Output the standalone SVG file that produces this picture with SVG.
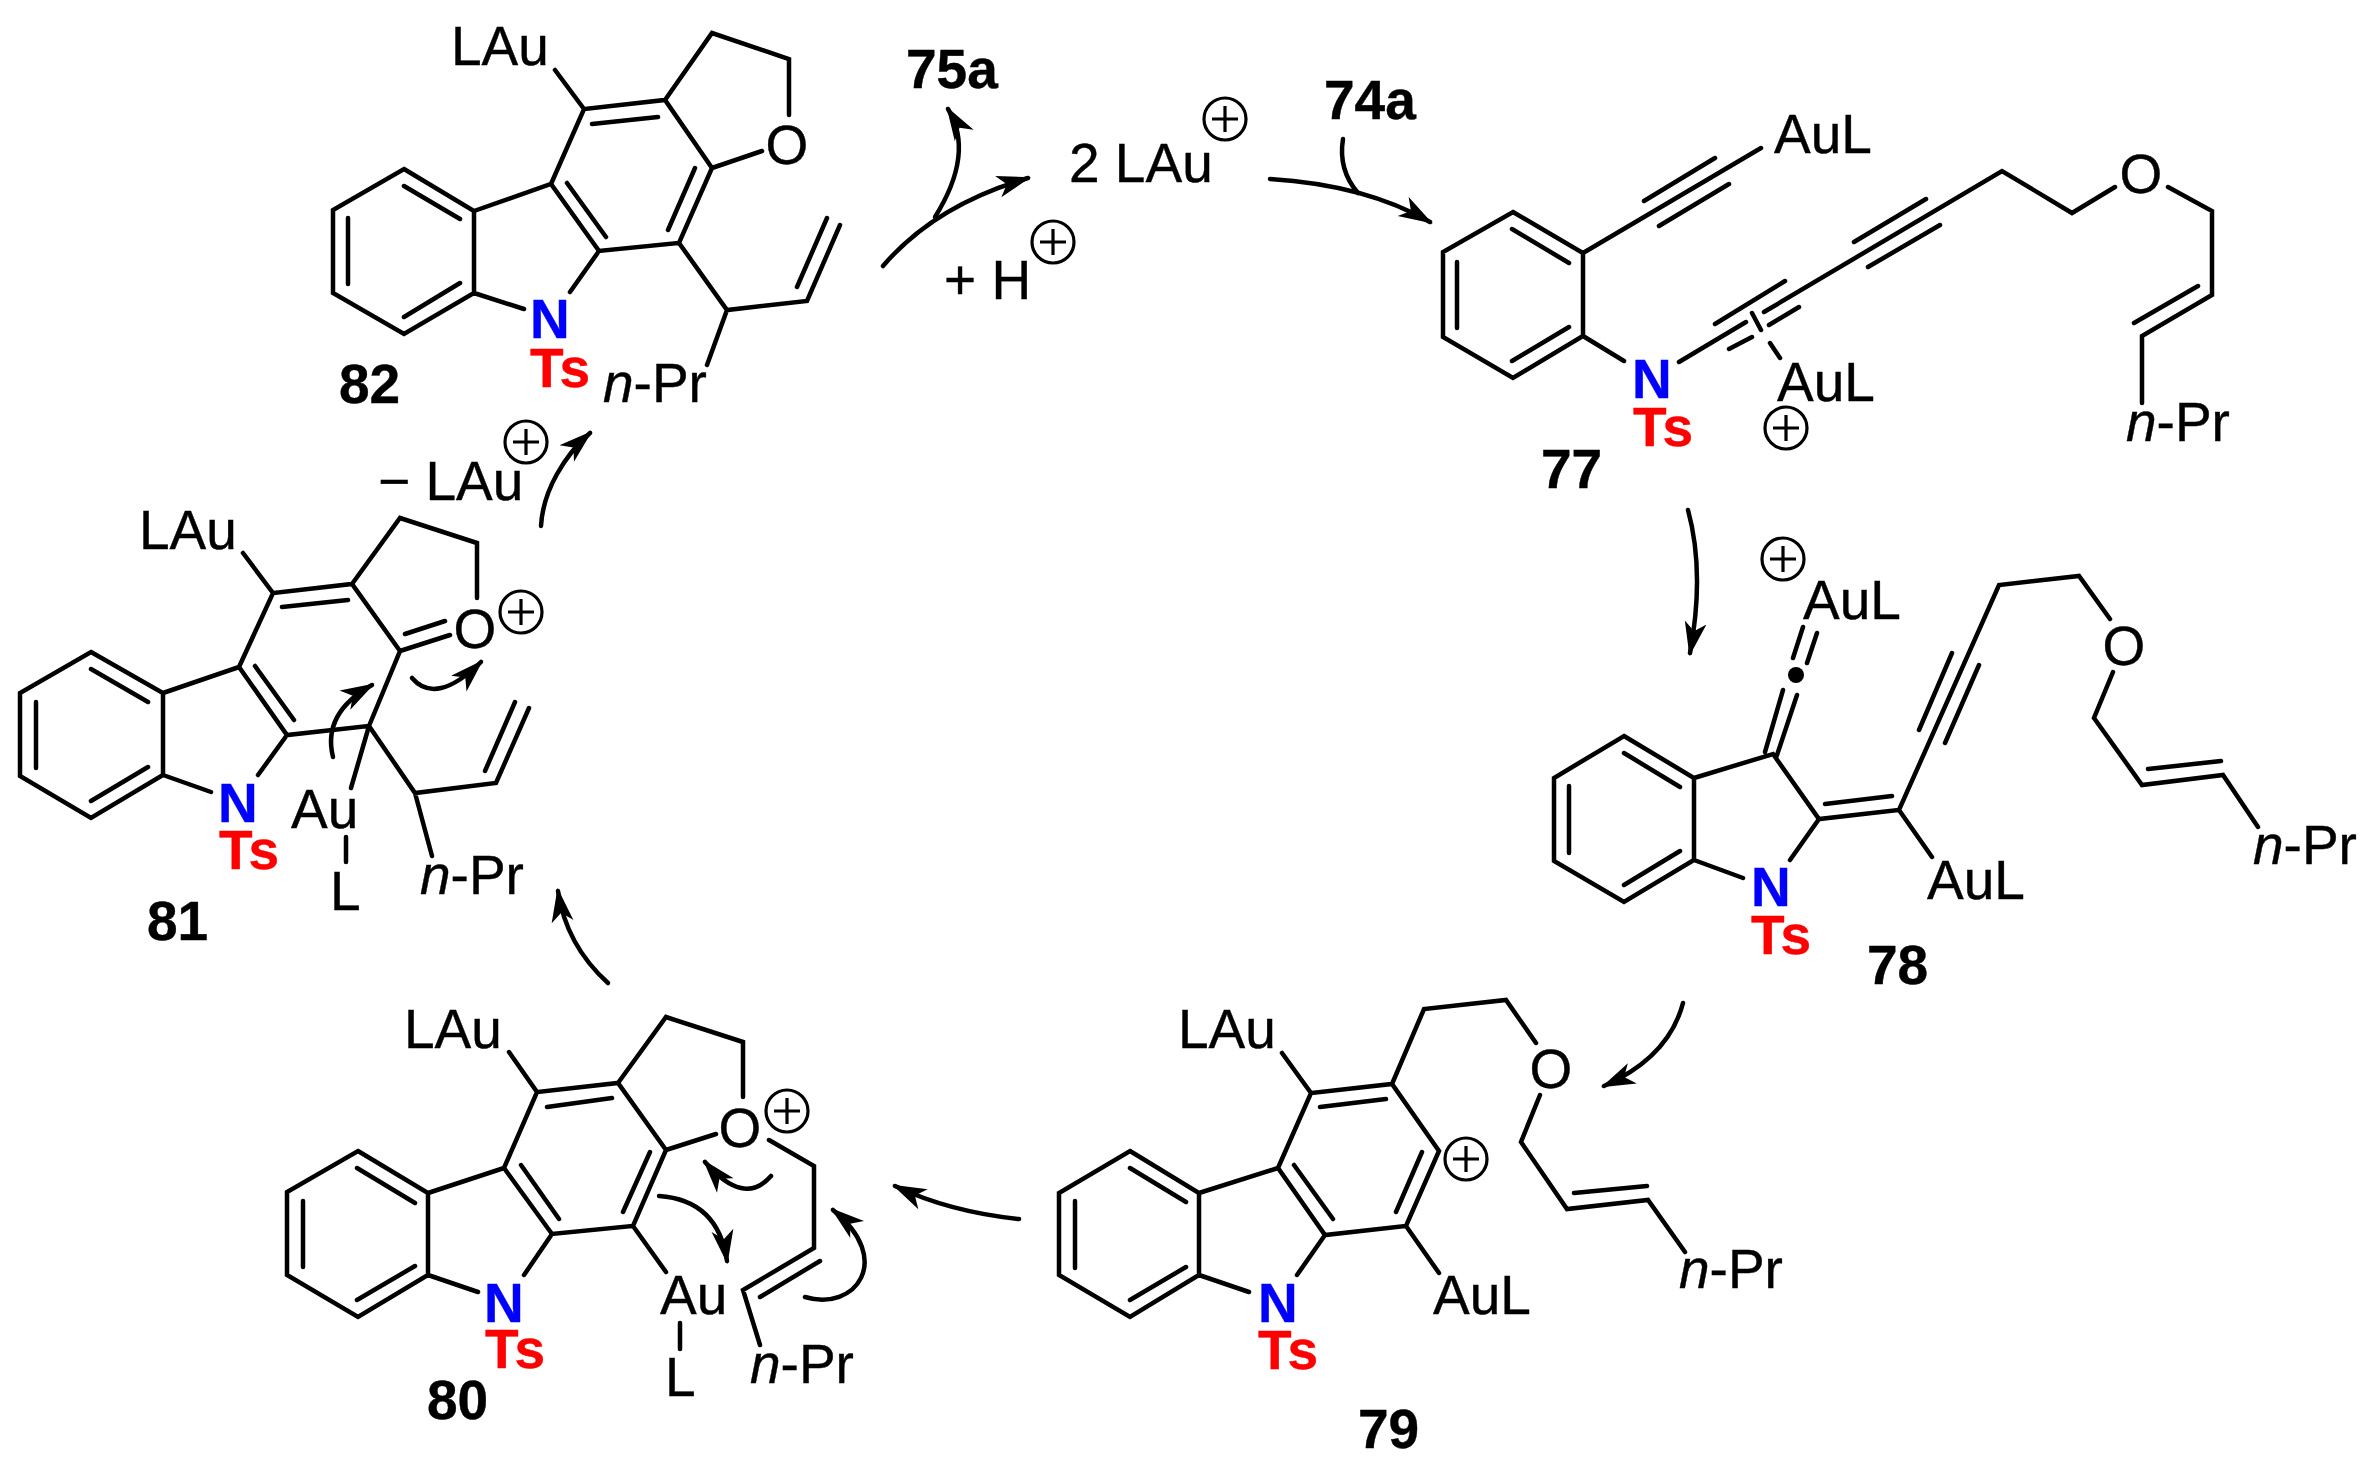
<svg xmlns="http://www.w3.org/2000/svg" xmlns:xlink="http://www.w3.org/1999/xlink" width="2379" height="1476" viewBox="0 0 2379 1476">
<style>
.b{fill:none;stroke:#000;stroke-width:4.5;stroke-linecap:round;stroke-linejoin:miter}
.a{fill:none;stroke:#000;stroke-width:4.5;stroke-linecap:round;marker-end:url(#head)}
text{font-family:"Liberation Sans",Arial,sans-serif;font-size:55px;fill:#000;stroke:#000;stroke-width:.4}
.N{font-weight:bold;fill:#0000ff;stroke:#0000ff}
.T{font-weight:bold;fill:#ff0000;stroke:#ff0000}
.l{font-weight:bold}
.c{text-anchor:middle}
.i{font-style:italic}
</style>
<defs>
<marker id="head" markerUnits="userSpaceOnUse" markerWidth="36" markerHeight="26" viewBox="0 0 36 26" refX="31" refY="13" orient="auto"><path d="M34,13 L0,2 L9,13 L0,24 Z" fill="#000"/></marker>
<g id="plus"><circle r="21" fill="none" stroke="#000" stroke-width="3.2"/><path d="M-13,0H13M0,-13V13" stroke="#000" stroke-width="3.2" fill="none"/></g>
</defs>
<rect width="2379" height="1476" fill="#fff"/>

<g id="compound-82">
<path class="b" d="M404,169L474,211L474,293L404,334L333,293L333,210ZM404,186L460,219M460,283L404,317M348,218L348,284M474,211L551,184L599,251L679,243L712,168L665,100L584,109L551,184M567,183L606,237M668,230L695,168M592,124L658,117M584,109L555,70M665,100L712,33L789,59L789,115M712,168L762,151M474,293L524,309M599,251L570,292M679,243L727,310L807,301L840,225M797,287L827,218M727,310L707,365"/>
<text x="451" y="65">LAu</text>
<text class="c" x="787" y="164">O</text>
<text class="N" x="530" y="338">N</text>
<text class="T" x="530" y="387">Ts</text>
<text x="603" y="402"><tspan class="i">n</tspan>-Pr</text>
<text class="l" x="339" y="403">82</text>
</g>

<g id="reagent-75a"><text class="l" x="906" y="88">75a</text></g>
<g id="reagent-74a"><text class="l" x="1324" y="119">74a</text></g>
<g id="proton"><text x="944" y="299">+ H</text><use xlink:href="#plus" href="#plus" x="1053" y="242"/></g>
<g id="catalyst-in"><text x="1069" y="182">2 LAu</text><use xlink:href="#plus" href="#plus" x="1225" y="119"/></g>
<g id="catalyst-out"><text x="378" y="500">− LAu</text><use xlink:href="#plus" href="#plus" x="526" y="442"/></g>

<g id="compound-77">
<path class="b" d="M1513,212L1583,253L1583,336L1513,378L1443,337L1443,252ZM1512,229L1569,263M1569,327L1512,361M1457,262L1457,328M1583,253L1761,148M1644,201L1715,158M1659,226L1729,184M1583,336L1624,361M1679,362L1746,322M1764,312L2002,171L2072,213L2115,187M2168,187L2212,211L2212,295L2142,336L2142,403M2198,286L2134,323M1926,199L1854,242M1940,225L1868,267M1715,324L1785,281M1729,349L1752,337M1769,325L1799,307M1752,313L1761,330M1770,343L1780,358"/>
<text x="1774" y="153">AuL</text>
<text x="1777" y="401">AuL</text>
<text class="c" x="2141" y="193">O</text>
<text class="N" x="1632" y="398">N</text>
<text class="T" x="1633" y="446">Ts</text>
<text x="2126" y="441"><tspan class="i">n</tspan>-Pr</text>
<text class="l" x="1541" y="488">77</text>
<use xlink:href="#plus" href="#plus" x="1786" y="428"/>
</g>

<g id="compound-78">
<path class="b" d="M1624,736L1694,778L1694,860L1624,902L1554,861L1554,778ZM1624,753L1680,787M1680,851L1624,885M1569,786L1569,853M1694,778L1773,754L1819,819L1899,810L1999,585L2079,576L2110,619M1825,804L1892,796M1919,730L1952,653M1945,743L1979,665M2113,672L2094,718L2142,785L2223,775L2258,827M2148,769L2221,761M1803,627L1793,658M1817,633L1807,663M1783,690L1765,752M1797,695L1776,758M1899,810L1932,857M1694,860L1743,878M1819,819L1790,860"/>
<circle cx="1796" cy="675" r="8" fill="#000"/>
<use xlink:href="#plus" href="#plus" x="1783" y="559"/>
<text x="1803" y="619">AuL</text>
<text x="1927" y="899">AuL</text>
<text class="c" x="2124" y="665">O</text>
<text class="N" x="1751" y="906">N</text>
<text class="T" x="1751" y="954">Ts</text>
<text x="2253" y="864"><tspan class="i">n</tspan>-Pr</text>
<text class="l" x="1867" y="984">78</text>
</g>

<g id="compound-79">
<path class="b" d="M1130,1151L1199,1193L1199,1275L1130,1317L1059,1275L1059,1193ZM1130,1168L1186,1202M1186,1267L1130,1300M1075,1201L1075,1268M1199,1193L1278,1168L1325,1235L1406,1226L1439,1151L1392,1084L1311,1093L1278,1168M1294,1165L1333,1219M1396,1212L1422,1152M1320,1107L1386,1099M1311,1093L1282,1053M1392,1084L1424,1009L1506,1000L1536,1043M1540,1095L1521,1142L1567,1209L1648,1200L1685,1252M1574,1193L1647,1186M1406,1226L1439,1273M1199,1275L1249,1292M1325,1235L1297,1275"/>
<use xlink:href="#plus" href="#plus" x="1466" y="1159"/>
<text x="1178" y="1048">LAu</text>
<text x="1433" y="1314">AuL</text>
<text class="c" x="1551" y="1088">O</text>
<text class="N" x="1258" y="1322">N</text>
<text class="T" x="1258" y="1369">Ts</text>
<text x="1679" y="1288"><tspan class="i">n</tspan>-Pr</text>
<text class="l" x="1358" y="1448">79</text>
</g>

<g id="compound-80">
<path class="b" d="M358,1151L428,1193L428,1275L358,1317L287,1275L287,1192ZM357,1168L415,1203M415,1266L357,1300M303,1201L303,1267M428,1193L504,1168L552,1234L633,1226L666,1150L618,1083L537,1092L504,1168M521,1165L559,1219M623,1212L650,1152M547,1107L612,1098M537,1092L509,1052M618,1083L666,1017L743,1042L743,1097M666,1150L716,1134M769,1140L814,1166L814,1248L743,1290L760,1345M820,1261L760,1297M633,1226L666,1272M680,1323L680,1349M428,1275L478,1292M552,1234L524,1275"/>
<use xlink:href="#plus" href="#plus" x="787" y="1111"/>
<text x="404" y="1048">LAu</text>
<text x="660" y="1314">Au</text>
<text x="665" y="1396">L</text>
<text class="c" x="740" y="1147">O</text>
<text class="N" x="484" y="1322">N</text>
<text class="T" x="485" y="1368">Ts</text>
<text x="750" y="1383"><tspan class="i">n</tspan>-Pr</text>
<text class="l" x="427" y="1419">80</text>
</g>

<g id="compound-81">
<path class="b" d="M91,652L163,693L163,775L91,818L20,776L20,693ZM91,669L148,702M148,767L91,801M36,702L36,768M163,693L239,667L287,735L369,726L400,651L352,584L273,593L239,667M255,666L294,720M282,607L348,600M273,593L243,553M352,584L400,518L477,543L477,598M400,651L450,635M405,634L445,621M163,775L211,792M287,735L258,775M369,726L351,788M369,726L415,793L496,783L529,708M485,771L515,702M415,793L432,856M346,837L346,862"/>
<use xlink:href="#plus" href="#plus" x="521" y="612"/>
<text x="139" y="549">LAu</text>
<text x="291" y="828">Au</text>
<text x="330" y="910">L</text>
<text class="c" x="475" y="648">O</text>
<text class="N" x="218" y="822">N</text>
<text class="T" x="219" y="869">Ts</text>
<text x="420" y="894"><tspan class="i">n</tspan>-Pr</text>
<text class="l" x="147" y="940">81</text>
</g>

<g id="connectors">
<path class="a" d="M883,266Q935,205 1028,178"/>
<path class="a" d="M935,217Q975,153 948,109"/>
<path class="a" d="M1270,179Q1366,185 1430,222"/>
<path class="b" d="M1343,139Q1338,170 1358,193"/>
<path class="a" d="M1688,510Q1705,572 1690,653"/>
<path class="a" d="M1683,1003C1672,1045 1640,1070 1604,1086"/>
<path class="a" d="M1019,1219Q950,1212 895,1186"/>
<path class="a" d="M608,983Q566,945 558,891"/>
<path class="a" d="M541,526C543,490 565,455 590,433"/>
<path class="a" d="M412,678Q436,706 481,662"/>
<path class="a" d="M333,757Q322,713 372,685"/>
<path class="a" d="M771,1176Q744,1207 705,1162"/>
<path class="a" d="M659,1196Q718,1200 727,1261"/>
<path class="a" d="M805,1297C855,1312 895,1260 833,1210"/>
</g>
</svg>
